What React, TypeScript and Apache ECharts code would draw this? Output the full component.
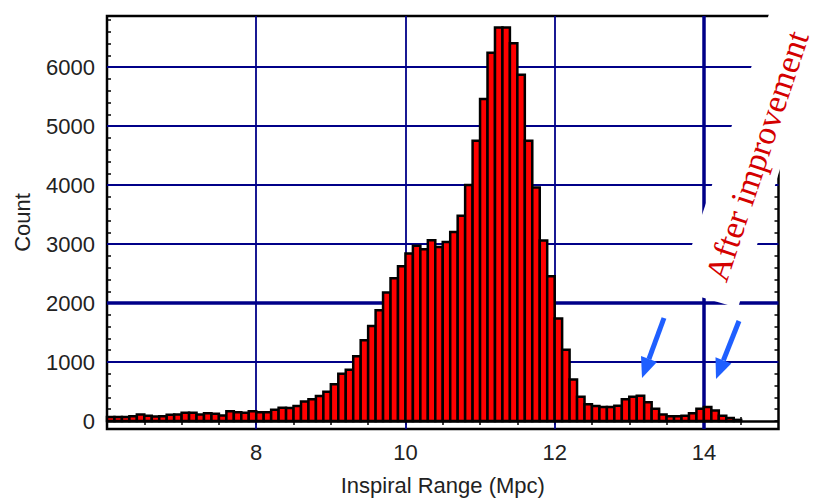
import React, { useEffect, useRef } from "react";
import * as echarts from "echarts";

// Histogram bins (left edge of each 0.1 Mpc bin)
const binStarts = [
  6.0, 6.1, 6.2, 6.3, 6.4, 6.5, 6.6, 6.7, 6.8, 6.9,
  7.0, 7.1, 7.2, 7.3, 7.4, 7.5, 7.6, 7.7, 7.8, 7.9,
  8.0, 8.1, 8.2, 8.3, 8.4, 8.5, 8.6, 8.7, 8.8, 8.9,
  9.0, 9.1, 9.2, 9.3, 9.4, 9.5, 9.6, 9.7, 9.8, 9.9,
  10.0, 10.1, 10.2, 10.3, 10.4, 10.5, 10.6, 10.7, 10.8, 10.9,
  11.0, 11.1, 11.2, 11.3, 11.4, 11.5, 11.6, 11.7, 11.8, 11.9,
  12.0, 12.1, 12.2, 12.3, 12.4, 12.5, 12.6, 12.7, 12.8, 12.9,
  13.0, 13.1, 13.2, 13.3, 13.4, 13.5, 13.6, 13.7, 13.8, 13.9,
  14.0, 14.1, 14.2, 14.3, 14.4,
];
const counts = [
  70, 70, 70, 80, 110, 90, 75, 80, 105, 110,
  140, 140, 110, 130, 125, 95, 165, 150, 140, 165,
  150, 150, 190, 225, 220, 255, 330, 370, 425, 495,
  625, 800, 870, 1100, 1370, 1610, 1880, 2180, 2420, 2625,
  2840, 2970, 2910, 3065, 2950, 3035, 3205, 3480, 4000, 4750,
  5460, 6245, 6670, 6670, 6405, 5870, 4750, 3960, 3060, 2455,
  1740, 1210, 705, 410, 285, 255, 240, 240, 260, 370,
  410, 430, 320, 210, 110, 80, 80, 90, 130, 210,
  240, 180, 90, 50, 20,
];
const binWidth = 0.1;

const xLabelValues = [8, 10, 12, 14];
const xTickValues = [
  6.5, 7, 7.5, 8, 8.5, 9, 9.5, 10, 10.5, 11, 11.5, 12, 12.5, 13, 13.5, 14, 14.5,
];
const yLabelValues = [0, 1000, 2000, 3000, 4000, 5000, 6000];
const yTickValues = [
  0, 200, 400, 600, 800, 1000, 1200, 1400, 1600, 1800, 2000, 2200, 2400, 2600,
  2800, 3000, 3200, 3400, 3600, 3800, 4000, 4200, 4400, 4600, 4800, 5000, 5200,
  5400, 5600, 5800, 6000, 6200, 6400, 6600, 6800,
];
const xGridValues = [8, 10, 12, 14];
const yGridValues = [1000, 2000, 3000, 4000, 5000, 6000];
const thickXGrid = 14;
const thickYGrid = 2000;

const GRID_COLOR = "#000088";
const TEXT_COLOR = "#222222";
const FONT = "'Liberation Sans', Arial, Helvetica, sans-serif";

export default function App() {
  const ref = useRef<HTMLDivElement>(null);

  useEffect(() => {
    if (!ref.current) return;
    const chart = echarts.init(ref.current, undefined, { renderer: "svg" });

    const gridLines: any[] = [];
    xGridValues.forEach((v) =>
      gridLines.push({
        xAxis: v,
        lineStyle: { color: GRID_COLOR, width: v === thickXGrid ? 3.5 : 1.8, type: "solid" },
      })
    );
    yGridValues.forEach((v) =>
      gridLines.push({
        yAxis: v,
        lineStyle: { color: GRID_COLOR, width: v === thickYGrid ? 3.5 : 1.8, type: "solid" },
      })
    );
    gridLines.push({ yAxis: 0, lineStyle: { color: "#000", width: 2.5, type: "solid" } });

    const tickStyle = { inside: true, length: 4, lineStyle: { color: "#000", width: 1.5 } };

    const option: any = {
      animation: false,
      backgroundColor: "#fff",
      grid: {
        left: 107,
        top: 16,
        right: 39.5,
        bottom: 69.5,
        show: true,
        borderColor: "#000",
        borderWidth: 2.5,
        backgroundColor: "transparent",
      },
      xAxis: [
        {
          type: "value",
          min: 6,
          max: 15,
          position: "bottom",
          name: "Inspiral Range (Mpc)",
          nameLocation: "middle",
          nameGap: 45,
          nameTextStyle: { color: TEXT_COLOR, fontSize: 22, fontFamily: FONT },
          axisLine: { show: false },
          axisTick: { ...tickStyle, customValues: xTickValues },
          axisLabel: {
            customValues: xLabelValues,
            formatter: (v: number) => String(v),
            color: TEXT_COLOR,
            fontSize: 22,
            fontFamily: FONT,
            margin: 12,
          },
          splitLine: { show: false },
        },
        {
          type: "value",
          min: 6,
          max: 15,
          position: "top",
          axisLine: { show: false },
          axisTick: { ...tickStyle, customValues: xTickValues },
          axisLabel: { show: false },
          splitLine: { show: false },
        },
      ],
      yAxis: [
        {
          type: "value",
          min: -135,
          max: 6866,
          position: "left",
          name: "Count",
          nameLocation: "middle",
          nameGap: 74,
          nameTextStyle: { color: TEXT_COLOR, fontSize: 22, fontFamily: FONT },
          axisLine: { show: false },
          axisTick: { ...tickStyle, customValues: yTickValues },
          axisLabel: {
            customValues: yLabelValues,
            formatter: (v: number) => String(v),
            color: TEXT_COLOR,
            fontSize: 22,
            fontFamily: FONT,
            margin: 12,
          },
          splitLine: { show: false },
        },
        {
          type: "value",
          min: -135,
          max: 6866,
          position: "right",
          axisLine: { show: false },
          axisTick: { ...tickStyle, customValues: yTickValues },
          axisLabel: { show: false },
          splitLine: { show: false },
        },
      ],
      series: [
        {
          type: "line",
          data: [],
          xAxisIndex: 0,
          yAxisIndex: 0,
          z: 1,
          silent: true,
          markLine: {
            silent: true,
            symbol: ["none", "none"],
            label: { show: false },
            animation: false,
            data: gridLines,
          },
        },
        {
          type: "custom",
          xAxisIndex: 0,
          yAxisIndex: 0,
          z: 5,
          data: binStarts.map((s, i) => [s, s + binWidth, counts[i]]),
          encode: { x: [0, 1], y: 2 },
          renderItem: (_params: any, api: any) => {
            const x0 = api.value(0);
            const x1 = api.value(1);
            const v = api.value(2);
            const p0 = api.coord([x0, v]);
            const p1 = api.coord([x1, 0]);
            return {
              type: "rect",
              shape: {
                x: p0[0],
                y: p0[1],
                width: p1[0] - p0[0],
                height: p1[1] - p0[1],
              },
              style: { fill: "#ff0000", stroke: "#000", lineWidth: 2.5 },
            };
          },
        },
      ],
      graphic: [
        {
          type: "polygon",
          z: 100,
          silent: true,
          shape: {
            points: [
              [677, 290],
              [738, 308],
              [834, -10],
              [777, -10],
            ],
          },
          style: { fill: "#ffffff" },
        },
        {
          type: "text",
          z: 101,
          silent: true,
          x: 757,
          y: 156,
          rotation: (71.5 * Math.PI) / 180,
          style: {
            text: "After improvement",
            fill: "#d40000",
            font: "34px 'Liberation Serif', 'Times New Roman', serif",
            align: "center",
            verticalAlign: "middle",
          },
        },
        // Arrow 1
        {
          type: "line",
          z: 101,
          silent: true,
          shape: { x1: 664, y1: 318, x2: 648.9, y2: 359.2 },
          style: { stroke: "#1f5fff", lineWidth: 5 },
        },
        {
          type: "polygon",
          z: 101,
          silent: true,
          shape: {
            points: [
              [642, 378],
              [657, 362],
              [641, 356],
            ],
          },
          style: { fill: "#1f5fff" },
        },
        // Arrow 2
        {
          type: "line",
          z: 101,
          silent: true,
          shape: { x1: 739, y1: 321, x2: 723.4, y2: 360.4 },
          style: { stroke: "#1f5fff", lineWidth: 5 },
        },
        {
          type: "polygon",
          z: 101,
          silent: true,
          shape: {
            points: [
              [716, 379],
              [731.3, 363.5],
              [715.5, 357.3],
            ],
          },
          style: { fill: "#1f5fff" },
        },
      ],
    };

    chart.setOption(option);
    return () => chart.dispose();
  }, []);

  return (
    <div
      ref={ref}
      style={{ position: "fixed", left: 0, top: 0, width: 818, height: 501, background: "#fff" }}
    />
  );
}
